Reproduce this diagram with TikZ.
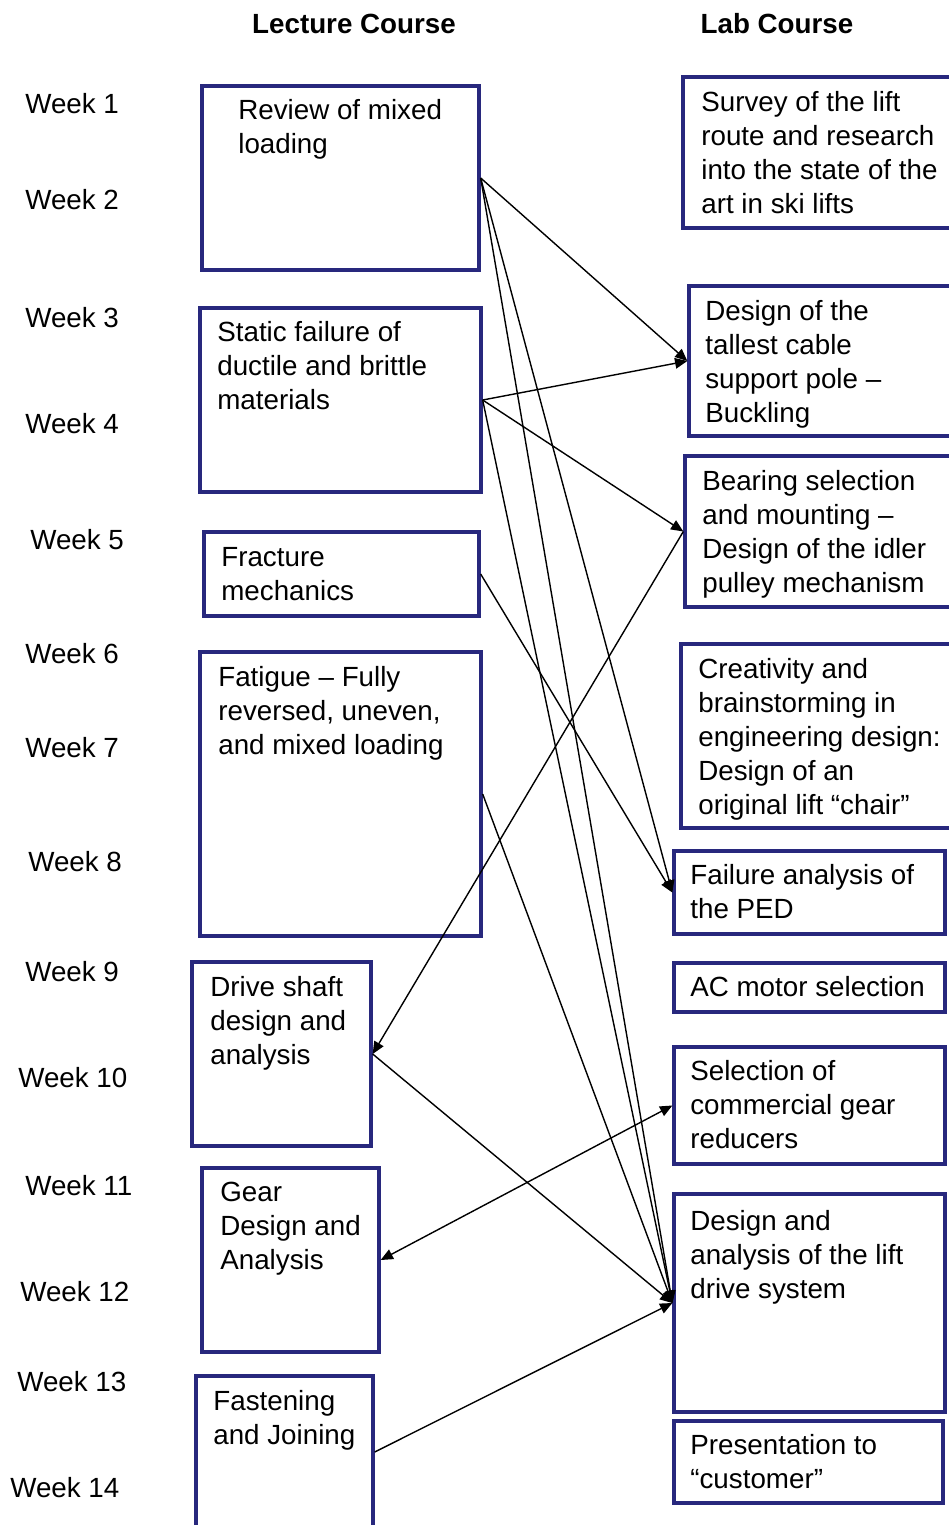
\documentclass[tikz,border=0pt]{standalone}
\usepackage{fontspec}
\setmainfont{Liberation Sans}
\usetikzlibrary{fit,arrows.meta}
\definecolor{boxblue}{RGB}{40,40,125}
\begin{document}
\begin{tikzpicture}[x=0.02cm,y=-0.02cm]
            \tikzstyle{every node}+=[inner sep=0pt]
            \tikzstyle{box}=[draw=boxblue, line width=1.9pt]
            \tikzstyle{txt}=[anchor=north west, align=left, font=\fontsize{15.8}{19.4}\selectfont]
            \tikzstyle{wk}=[anchor=west, font=\fontsize{15.8}{19.4}\selectfont]
            \tikzstyle{hd}=[font=\fontsize{15.8}{19.4}\selectfont\bfseries]
            \tikzstyle{arr}=[black, line width=0.8pt, -{Triangle[length=7pt,width=6pt]}]
            \tikzstyle{arr2}=[black, line width=0.8pt, {Triangle[length=7pt,width=6pt]}-{Triangle[length=7pt,width=6pt]}]
            \useasboundingbox (0,0) rectangle (949,1525);
            \clip (0,0) rectangle (949,1525);
            \node [hd] (lecture) at (354,24) {Lecture Course};
            \node [hd] (lab) at (777,24) {Lab Course};
            \node [wk] (w1) at (25,104) {Week 1};
            \node [wk] (w2) at (25,200) {Week 2};
            \node [wk] (w3) at (25,318) {Week 3};
            \node [wk] (w4) at (25,424) {Week 4};
            \node [wk] (w5) at (30,540) {Week 5};
            \node [wk] (w6) at (25,654) {Week 6};
            \node [wk] (w7) at (25,748) {Week 7};
            \node [wk] (w8) at (28,862) {Week 8};
            \node [wk] (w9) at (25,972) {Week 9};
            \node [wk] (w10) at (18,1078) {Week 10};
            \node [wk] (w11) at (25,1186) {Week 11};
            \node [wk] (w12) at (20,1292) {Week 12};
            \node [wk] (w13) at (17,1382) {Week 13};
            \node [wk] (w14) at (10,1488) {Week 14};
            \node [box, fit={(202,86) (479,270)}] (review) {};
            \node [txt] (review-t) at (238,99) {Review of mixed\\loading};
            \node [box, fit={(200,308) (481,492)}] (static) {};
            \node [txt] (static-t) at (217,321) {Static failure of\\ductile and brittle\\materials};
            \node [box, fit={(204,532) (479,616)}] (fracture) {};
            \node [txt] (fracture-t) at (221,547) {Fracture\\mechanics};
            \node [box, fit={(200,652) (481,936)}] (fatigue) {};
            \node [txt] (fatigue-t) at (218,666) {Fatigue – Fully\\reversed, uneven,\\and mixed loading};
            \node [box, fit={(192,962) (371,1146)}] (shaft) {};
            \node [txt] (shaft-t) at (210,976) {Drive shaft\\design and\\analysis};
            \node [box, fit={(202,1168) (379,1352)}] (gear) {};
            \node [txt] (gear-t) at (220,1182) {Gear\\Design and\\Analysis};
            \node [box, fit={(196,1376) (373,1528)}] (fasten) {};
            \node [txt] (fasten-t) at (213,1390) {Fastening\\and Joining};
            \node [box, fit={(683,77) (960,228)}] (survey) {};
            \node [txt] (survey-t) at (701,91) {Survey of the lift\\route and research\\into the state of the\\art in ski lifts};
            \node [box, fit={(689,286) (960,436)}] (pole) {};
            \node [txt] (pole-t) at (705,300) {Design of the\\tallest cable\\support pole –\\Buckling};
            \node [box, fit={(685,456) (960,607)}] (bearing) {};
            \node [txt] (bearing-t) at (702,470) {Bearing selection\\and mounting –\\Design of the idler\\pulley mechanism};
            \node [box, fit={(681,644) (960,828)}] (creative) {};
            \node [txt] (creative-t) at (698,658) {Creativity and\\brainstorming in\\engineering design:\\Design of an\\original lift “chair”};
            \node [box, fit={(674,851) (945,934)}] (ped) {};
            \node [txt] (ped-t) at (690,864) {Failure analysis of\\the PED};
            \node [box, fit={(674,963) (945,1012)}] (motor) {};
            \node [txt] (motor-t) at (690,976) {AC motor selection};
            \node [box, fit={(674,1047) (945,1164)}] (reducer) {};
            \node [txt] (reducer-t) at (690,1060) {Selection of\\commercial gear\\reducers};
            \node [box, fit={(674,1194) (945,1412)}] (drive) {};
            \node [txt] (drive-t) at (690,1210) {Design and\\analysis of the lift\\drive system};
            \node [box, fit={(674,1421) (943,1503)}] (present) {};
            \node [txt] (present-t) at (690,1434) {Presentation to\\“customer”};
            \draw [arr] (review.east) -- (pole.west);
            \draw [arr] (review.east) -- (ped.west);
            \draw [arr] (review.east) -- (drive.west);
            \draw [arr] (static.east) -- (pole.west);
            \draw [arr] (static.east) -- (bearing.west);
            \draw [arr] (static.east) -- (drive.west);
            \draw [arr] (fracture.east) -- (ped.west);
            \draw [arr] (fatigue.east) -- (drive.west);
            \draw [arr] (bearing.west) -- (shaft.east);
            \draw [arr] (shaft.east) -- (drive.west);
            \draw [arr2] (gear.east) -- (reducer.west);
            \draw [arr] (fasten.east) -- (drive.west);
        \end{tikzpicture}
\end{document}
